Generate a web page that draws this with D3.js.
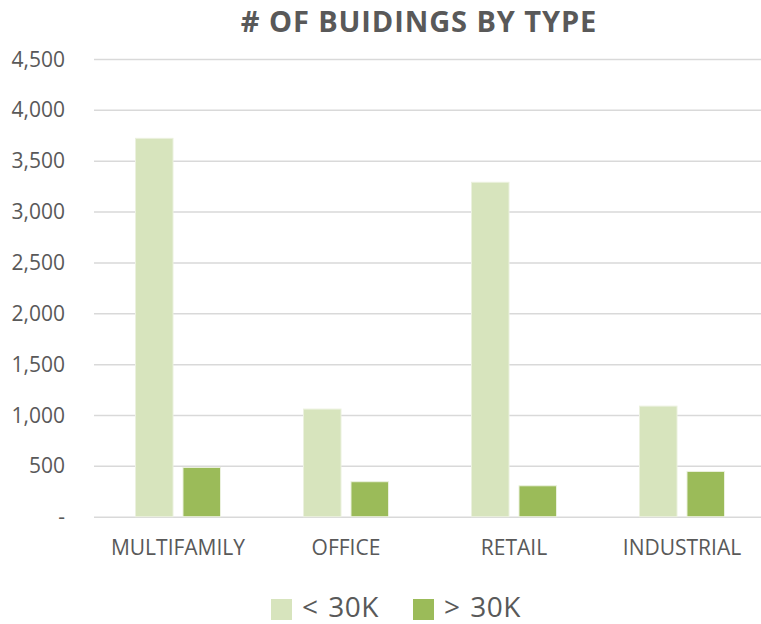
<!DOCTYPE html>
<html>
  <head>
    <meta charset="utf-8" />
    <style>
      body {
        margin: 0;
        background: #fff;
        overflow: hidden;
      }
      svg text {
        font-family: "Open Sans", "Noto Sans", sans-serif;
        fill: #595959;
      }
      .title {
        font-weight: bold;
        font-size: 29px;
        letter-spacing: 0.9px;
      }
      .y.axis text {
        font-size: 21px;
      }
      .x-label {
        font-size: 21px;
      }
      .legend text {
        font-size: 28px;
        word-spacing: 2px;
        letter-spacing: 0.5px;
      }
    </style>
  </head>

  <body>
    <svg width="761" height="624"></svg>
  </body>

  <script src="https://d3js.org/d3.v7.min.js"></script>

  <script>
    // chart data
    let categories = ["MULTIFAMILY", "OFFICE", "RETAIL", "INDUSTRIAL"];
    let seriesNames = ["< 30K", "> 30K"];
    let under30k = [3720, 1058, 3288, 1087];
    let over30k = [484, 344, 304, 445];
    let yTicks = [0, 500, 1000, 1500, 2000, 2500, 3000, 3500, 4000, 4500];

    let colors = ["#d7e4bd", "#9bbb59"];

    let rows = categories.map((c, i) => ({
      category: c,
      values: [under30k[i], over30k[i]],
    }));

    let svg = d3.select("svg");

    let x = d3.scaleBand().domain(categories).range([94, 766]).padding(0);

    let xSub = d3
      .scaleBand()
      .domain(d3.range(seriesNames.length))
      .range([0, 85])
      .paddingInner(0.21);

    let groupOffset = (x.bandwidth() - 85) / 2;

    let y = d3.scaleLinear().domain([0, 4500]).range([516.7, 59]);

    // gridlines + labels
    let yAxis = svg
      .append("g")
      .attr("class", "y axis")
      .attr("transform", "translate(94,0)")
      .call(
        d3
          .axisRight(y)
          .tickValues(yTicks)
          .tickSize(761 - 94)
          .tickFormat((d) => (d === 0 ? "-" : d3.format(",")(d)))
      );

    yAxis.select(".domain").remove();
    yAxis
      .selectAll(".tick line")
      .attr("stroke", "#d9d9d9")
      .attr("stroke-width", 1.5);
    yAxis
      .selectAll(".tick text")
      .attr("x", -29)
      .attr("dy", "0.34em")
      .attr("text-anchor", "end");

    // bars
    let groups = svg
      .append("g")
      .selectAll("g")
      .data(rows)
      .join("g")
      .attr("transform", (d) => `translate(${x(d.category) + groupOffset},0)`);

    groups
      .selectAll("rect")
      .data((d) => d.values)
      .join("rect")
      .attr("x", (d, i) => xSub(i))
      .attr("y", (d) => y(d))
      .attr("width", xSub.bandwidth())
      .attr("height", (d) => y(0) - y(d))
      .attr("fill", (d, i) => colors[i])
      .attr("stroke", "#ebf1de")
      .attr("stroke-width", 1);

    // category labels
    svg
      .append("g")
      .selectAll("text")
      .data(categories)
      .join("text")
      .attr("class", "x-label")
      .attr("x", (d) => x(d) + x.bandwidth() / 2)
      .attr("y", 555)
      .attr("text-anchor", "middle")
      .text((d) => d);

    // title
    svg
      .append("text")
      .attr("class", "title")
      .attr("x", 419)
      .attr("y", 32)
      .attr("text-anchor", "middle")
      .text("# OF BUIDINGS BY TYPE");

    // legend
    let legendX = [271, 413];
    let legend = svg
      .append("g")
      .attr("class", "legend")
      .selectAll("g")
      .data(seriesNames)
      .join("g")
      .attr("transform", (d, i) => `translate(${legendX[i]},599)`);

    legend
      .append("rect")
      .attr("width", 21)
      .attr("height", 21)
      .attr("fill", (d, i) => colors[i]);

    legend
      .append("text")
      .attr("x", 31)
      .attr("y", 18)
      .text((d) => d);
  </script>
</html>
